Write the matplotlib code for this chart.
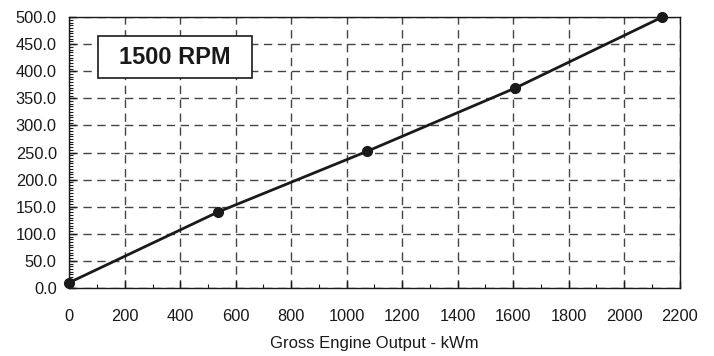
import matplotlib
matplotlib.use("Agg")
import matplotlib.pyplot as plt
from matplotlib.ticker import MultipleLocator, FormatStrFormatter
from matplotlib.patches import Rectangle

plt.rcParams['font.family'] = ['Liberation Sans', 'DejaVu Sans']

output_kwm = [0, 535, 1072, 1607, 2137]
values = [10, 140, 252, 369, 500]
x_ticks = [0, 200, 400, 600, 800, 1000, 1200, 1400, 1600, 1800, 2000, 2200]
y_ticks = [0, 50, 100, 150, 200, 250, 300, 350, 400, 450, 500]
label_text = "1500 RPM"
x_label = "Gross Engine Output - kWm"

fig = plt.figure(figsize=(7.14, 3.56), dpi=100)
ax = fig.add_axes([0.097, 0.191, 0.855, 0.761])

ax.plot(output_kwm, values, color='#1a1a1a', lw=2, marker='o', markersize=7,
        clip_on=False, zorder=5)

ax.set_xlim(0, 2200)
ax.set_ylim(0, 500)
ax.set_xticks(x_ticks)
ax.set_yticks(y_ticks)
ax.yaxis.set_major_formatter(FormatStrFormatter('%.1f'))
ax.xaxis.set_minor_locator(MultipleLocator(100))
ax.yaxis.set_minor_locator(MultipleLocator(5))

ax.grid(True, which='major', color='#444444', linestyle=(0, (6, 4)), lw=1)
ax.tick_params(axis='both', which='major', direction='in', length=5, width=1,
               labelsize=11.8, colors='#1a1a1a')
ax.tick_params(axis='x', which='major', pad=15)
ax.tick_params(axis='y', which='major', pad=9)
ax.tick_params(axis='both', which='minor', direction='in', length=3, width=0.8,
               colors='#1a1a1a')
for s in ax.spines.values():
    s.set_color('#1a1a1a')
    s.set_linewidth(1)

ax.set_xlabel(x_label, fontsize=12, color='#1a1a1a', labelpad=9)

box = Rectangle((0.047, 0.774), 0.253, 0.156, transform=ax.transAxes,
                facecolor='white', edgecolor='#1a1a1a', lw=1.2, zorder=4)
ax.add_patch(box)
ax.text(0.1735, 0.852, label_text, transform=ax.transAxes, fontsize=17,
        fontweight='bold', ha='center', va='center', color='#1a1a1a', zorder=6)

fig.savefig("out.png", dpi=100)
